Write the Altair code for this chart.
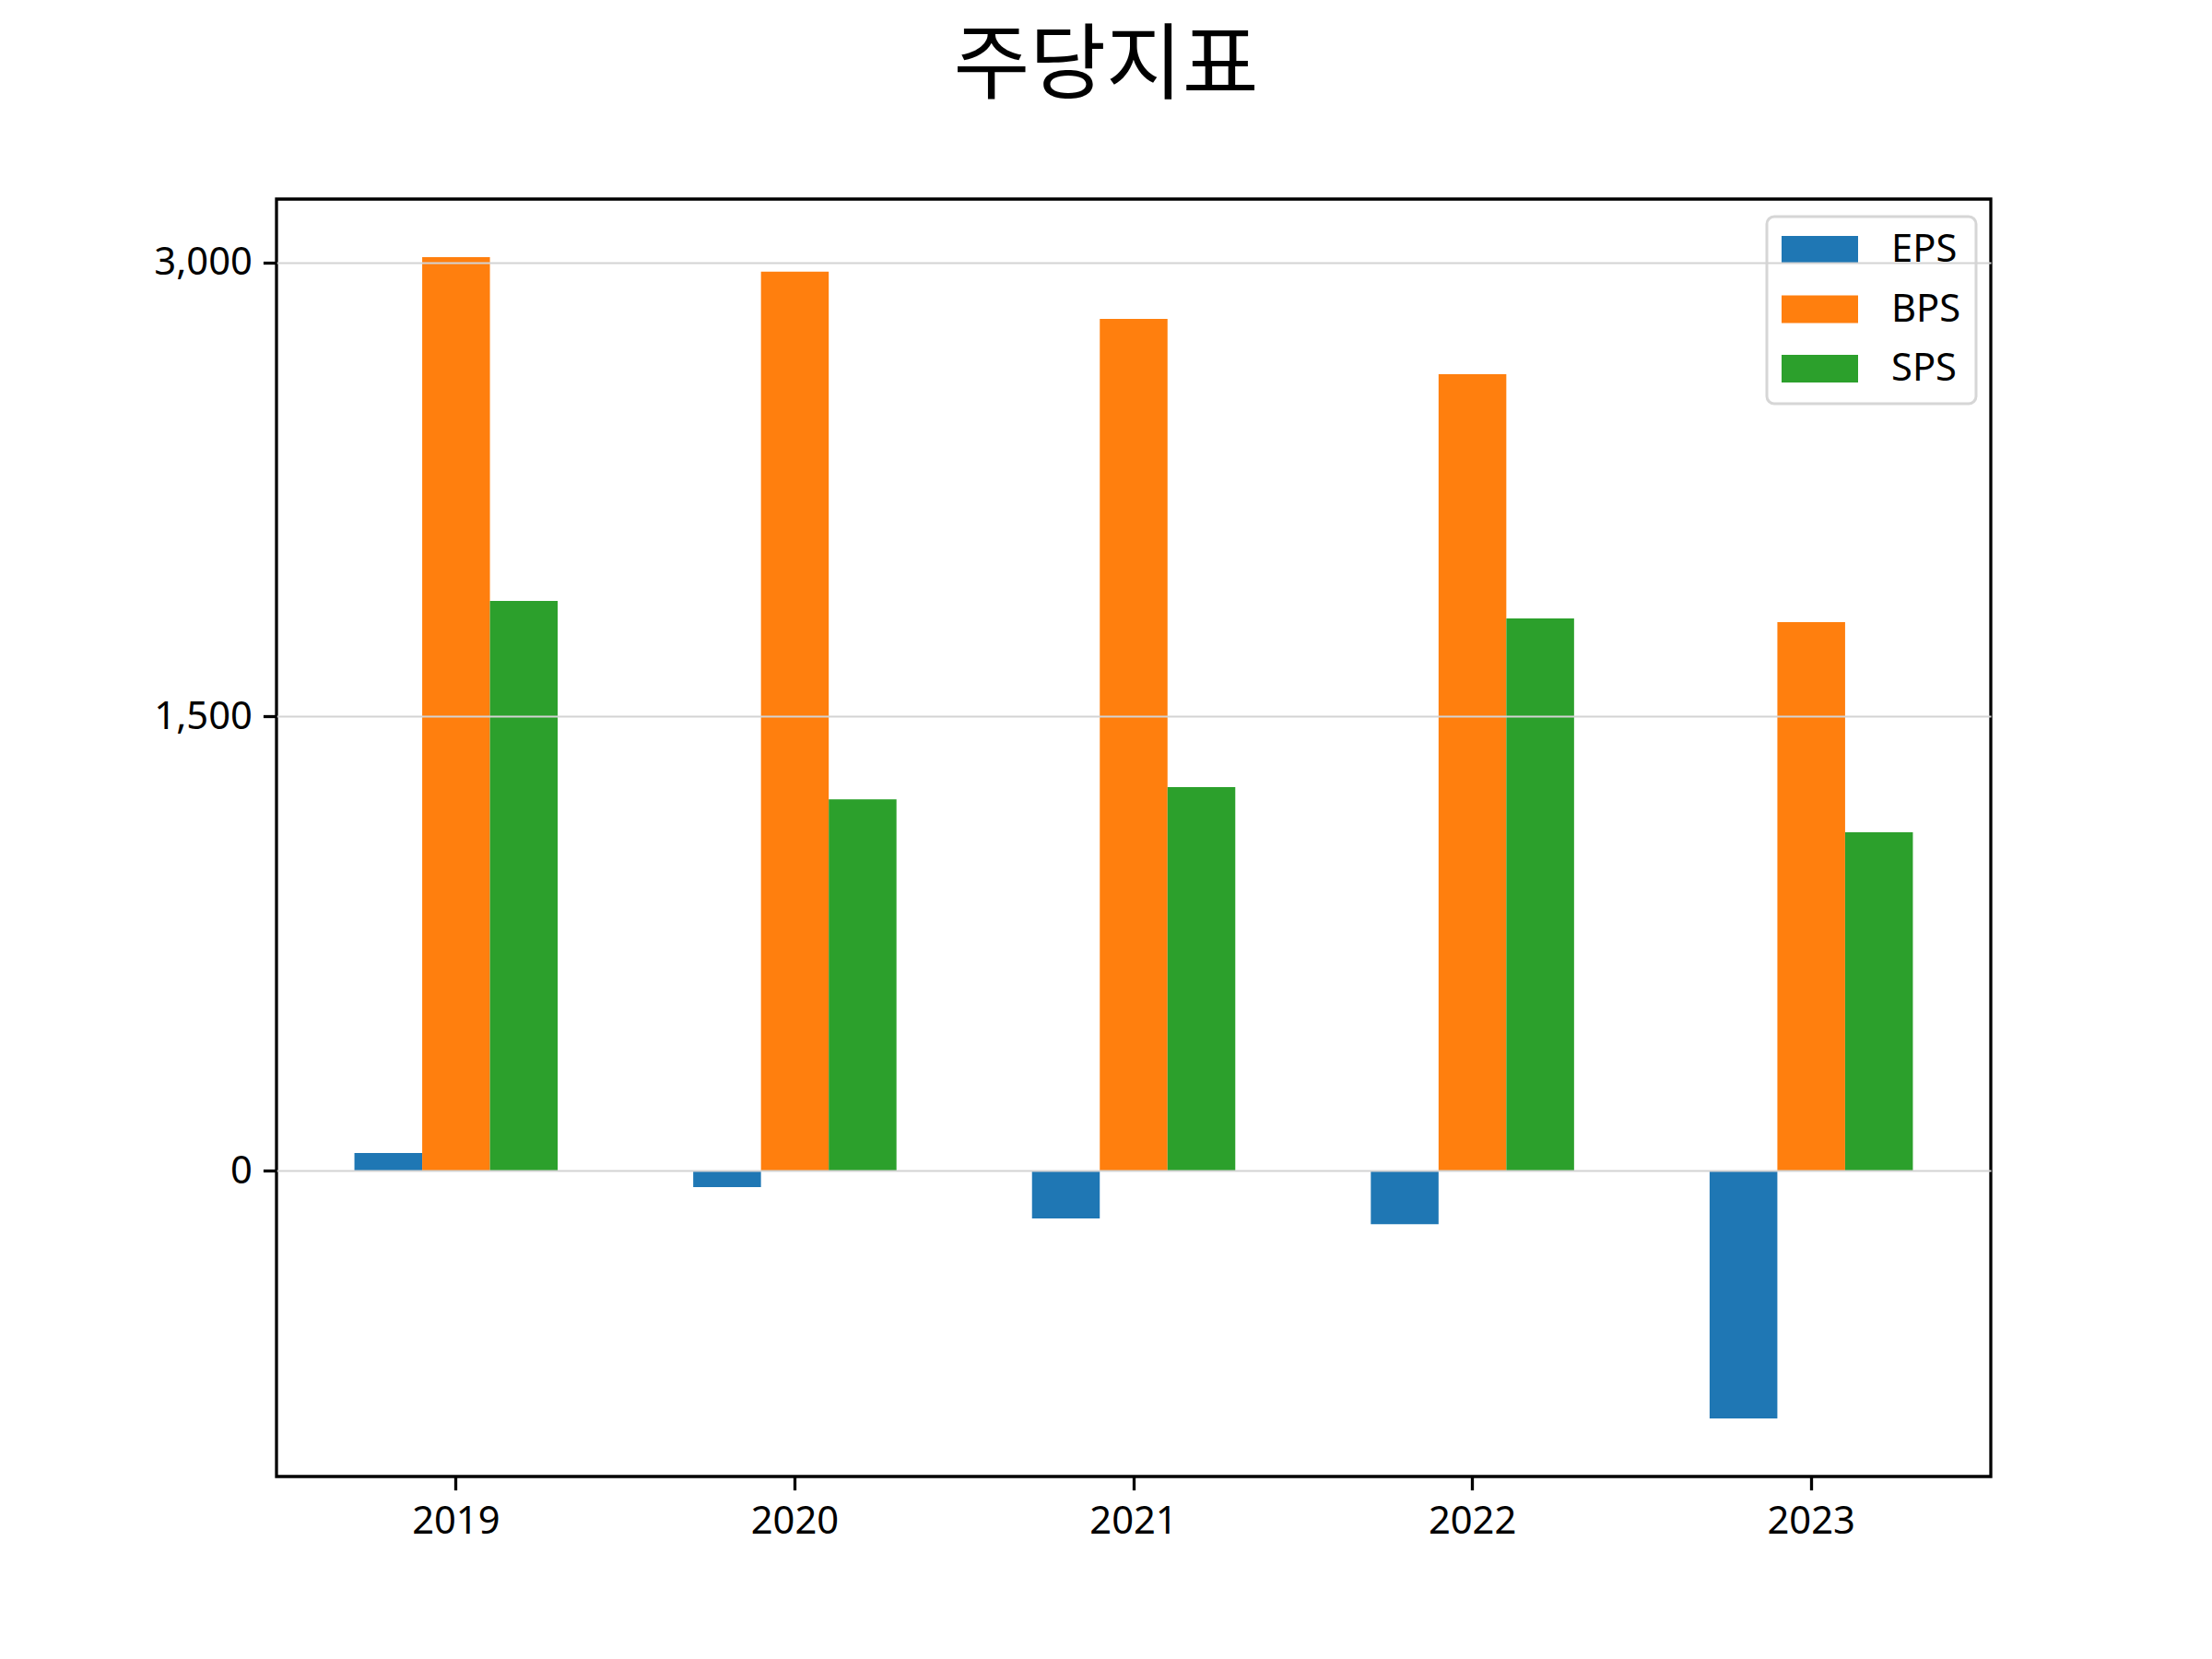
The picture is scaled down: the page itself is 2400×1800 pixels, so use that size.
import altair as alt
import pandas as pd

years = ["2019", "2020", "2021", "2022", "2023"]
series = ["EPS", "BPS", "SPS"]
eps = [58, -55, -158, -177, -819]
bps = [3018, 2970, 2814, 2631, 1812]
sps = [1882, 1227, 1267, 1824, 1118]
colors = ["#1f77b4", "#ff7f0e", "#2ca02c"]
y_ticks = [0, 1500, 3000]

rows = []
for name, vals in zip(series, [eps, bps, sps]):
    for yr, v in zip(years, vals):
        rows.append({"year": yr, "series": name, "value": v})
df = pd.DataFrame(rows)

FONT = "Noto Sans"

bars = alt.Chart(df).mark_bar(size=73.5).encode(
    x=alt.X(
        "year:N",
        sort=years,
        scale=alt.Scale(paddingInner=0.4, paddingOuter=0.23),
        axis=alt.Axis(
            title="",
            labelAngle=0,
            labelFont=FONT,
            labelFontSize=41.7,
            labelColor="black",
            labelPadding=14,
            tickColor="black",
            tickWidth=3.3,
            tickSize=14.6,
            domain=False,
            grid=False,
        ),
    ),
    xOffset=alt.XOffset("series:N", sort=series, scale=alt.Scale(paddingInner=0, paddingOuter=0)),
    y=alt.Y(
        "value:Q",
        scale=alt.Scale(domain=[-1011, 3210], nice=False, zero=False),
        axis=alt.Axis(
            title="",
            values=y_ticks,
            format=",.0f",
            labelFont=FONT,
            labelFontSize=41.7,
            labelColor="black",
            labelPadding=12,
            tickColor="black",
            tickWidth=3.3,
            tickSize=14.6,
            domain=False,
            grid=True,
            gridColor="#d3d3d3",
            gridWidth=2.2,
            zindex=1,
        ),
    ),
    color=alt.Color(
        "series:N",
        sort=series,
        scale=alt.Scale(domain=series, range=colors),
        legend=alt.Legend(
            title="",
            orient="none",
            legendX=1617,
            legendY=19,
            symbolType="M-1,-0.36H1V0.36H-1Z",
            symbolSize=6889,
            symbolStrokeWidth=0,
            symbolOpacity=1,
            clipHeight=40,
            labelFont=FONT,
            labelFontSize=41.7,
            labelColor="black",
            labelOffset=36,
            padding=16,
            rowPadding=22.5,
            strokeColor="#d6d6d6",
            fillColor="white",
            cornerRadius=8,
        ),
    ),
)

chart = bars.properties(
    width=1860,
    height=1386,
    title=alt.TitleParams(
        "주당지표",
        font="Noto Sans CJK KR",
        fontSize=90,
        fontWeight="normal",
        color="black",
        anchor="middle",
        frame="group",
        baseline="alphabetic",
        offset=26,
        dx=-30,
    ),
    autosize=alt.AutoSizeParams(type="none"),
    padding={"left": 292, "top": 208, "right": 232, "bottom": 190},
).configure_view(
    stroke="black",
    strokeWidth=3.3,
).configure_legend(
    strokeWidth=3,
)

chart.save("out.html", embed_options={"renderer": "svg", "actions": False})
